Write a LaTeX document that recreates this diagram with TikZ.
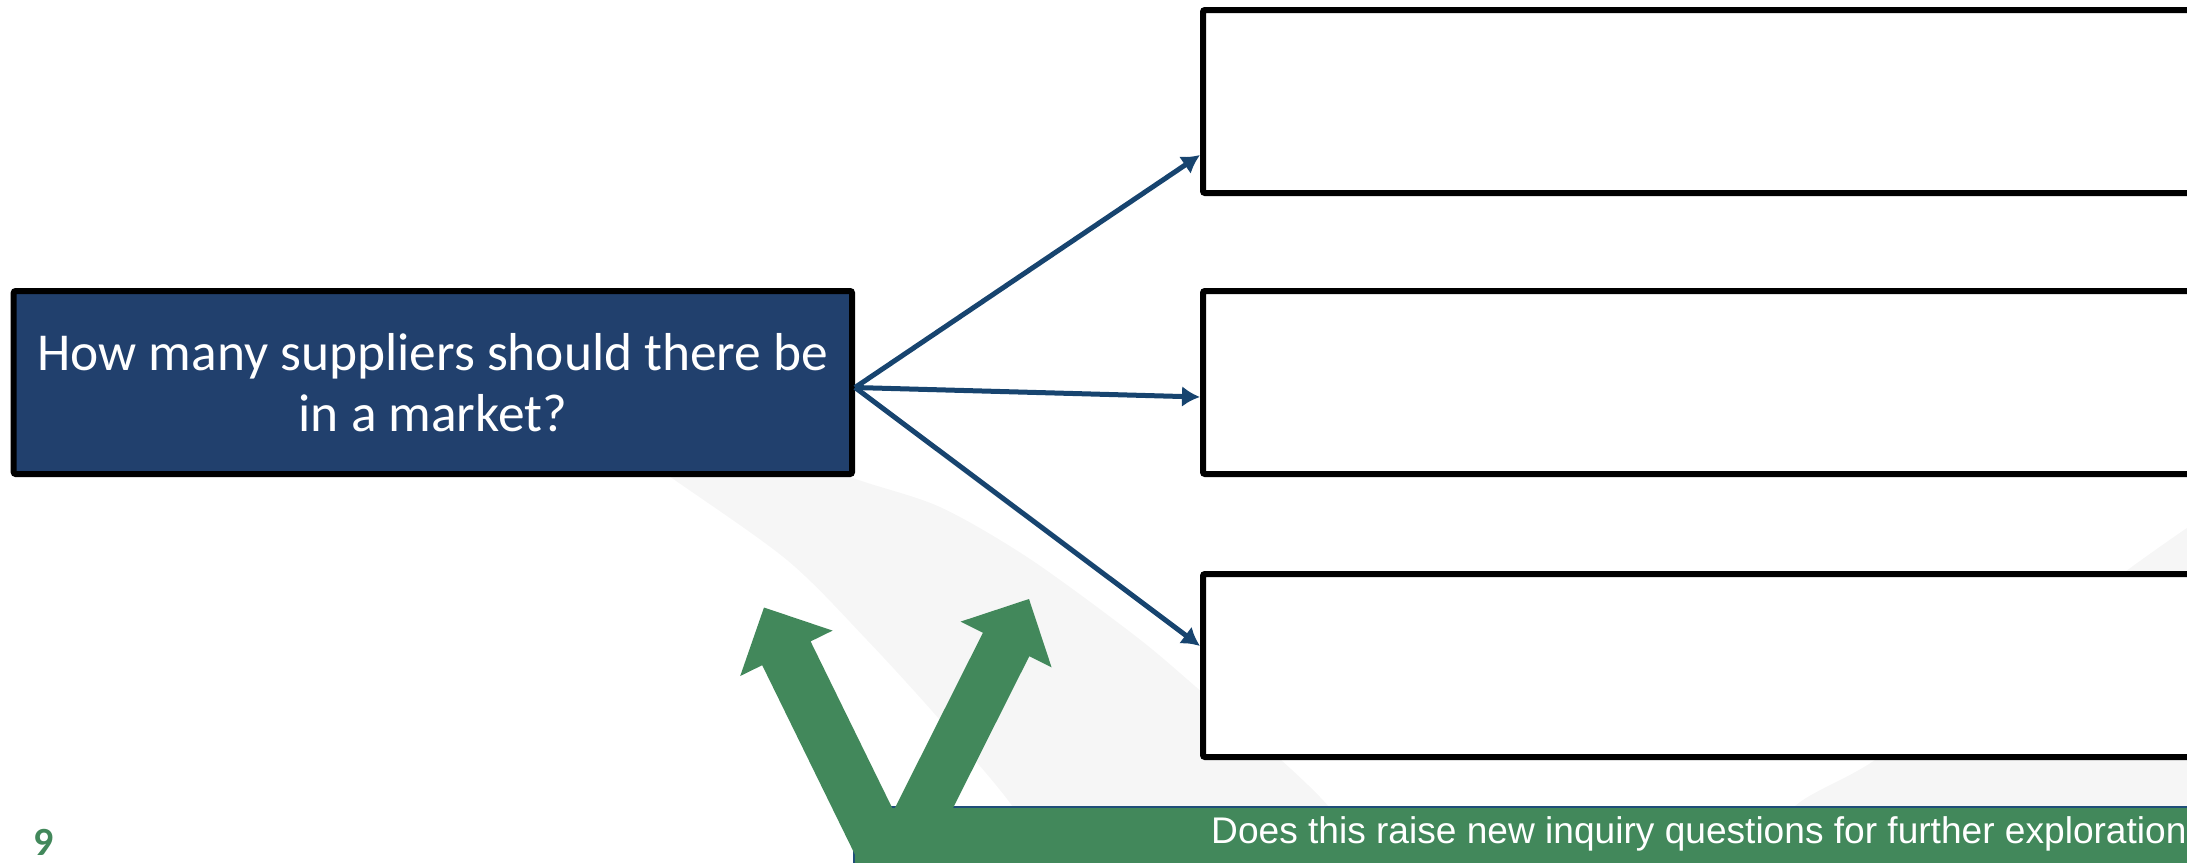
\documentclass[tikz,border=0pt]{standalone}
\usepackage{fontspec}
\setmainfont{Carlito}
\newfontfamily\arialf{Liberation Sans}
\usetikzlibrary{arrows.meta,calc}
\definecolor{boxblue}{HTML}{21406D}
\definecolor{arrowblue}{HTML}{17446F}
\definecolor{ggreen}{HTML}{42885B}
\definecolor{bggray}{HTML}{F6F6F6}
\definecolor{barline}{HTML}{1F4E79}
\begin{document}
\begin{tikzpicture}[x=1pt,y=-1pt,
  mainbox/.style={draw=black,line width=6pt,fill=boxblue,rounded corners=2pt,
    minimum width=838.3pt,minimum height=183pt,inner sep=0pt,text=white,
    align=center,font=\fontsize{53.4}{61}\selectfont},
  answerbox/.style={draw=black,line width=6pt,fill=white,rounded corners=2pt,
    minimum width=990pt,minimum height=183pt,inner sep=0pt},
  link/.style={draw=arrowblue,line width=5pt,-{Latex[length=18pt,width=21pt]}},
  greenarrow/.style={fill=ggreen},
  band/.style={fill=bggray}]
\useasboundingbox (0,0) rectangle (2187,862);
\clip (0,0) rectangle (2187,862);
% background swooshes
\fill[band] plot[smooth] coordinates {(560,400) (669,476) (787,560) (867,640) (940,720) (1013,807) (1045,870)}
  -- plot[smooth] coordinates {(1370,870) (1329,807) (1270,750) (1203,693) (1138,638) (1030,559) (940,507) (853,478) (760,440)} -- cycle;
\fill[band] plot[smooth] coordinates {(1760,870) (1794,807) (1875,760) (2005,662) (2133,566) (2200,519)} -- (2200,870) -- cycle;
% bottom bar
\draw[fill=ggreen,draw=barline,line width=2pt] (854,807) rectangle (2220,890);
% green arrows
\fill[greenarrow] (764,607.5) -- (832.6,630.6) -- (810.6,641.4) -- (910.9,846.1) -- (862.5,870) -- (762.2,665.2) -- (740.2,676) -- cycle;
\fill[greenarrow] (1029,599) -- (1051.6,667.4) -- (1029.3,656.2) -- (930.2,853.4) -- (883.8,830) -- (982.9,632.8) -- (960.6,621.6) -- cycle;
% boxes
\node[mainbox] (main) at (432.85,382.5) {How many suppliers should there be\\in a market?};
\node[answerbox] (b1) at (1698,101.5) {};
\node[answerbox] (b2) at (1698,382.5) {};
\node[answerbox] (b3) at (1698,665.5) {};
% connectors
\draw[link] ([yshift=-5pt]main.east) -- ([yshift=-53.5pt]b1.west);
\draw[link] ([yshift=-5pt]main.east) -- ([yshift=-14.5pt]b2.west);
\draw[link] ([yshift=-5pt]main.east) -- ([yshift=19.5pt]b3.west);
% texts
\node[anchor=base west,inner sep=0pt,text=white,font=\arialf\fontsize{37.1}{44}\selectfont] (q) at (1211,843) {Does this raise new inquiry questions for further exploration};
\node[anchor=base west,inner sep=0pt,text=ggreen,font=\bfseries\fontsize{40}{48}\selectfont] (pg) at (33,855) {9};
\end{tikzpicture}
\end{document}
